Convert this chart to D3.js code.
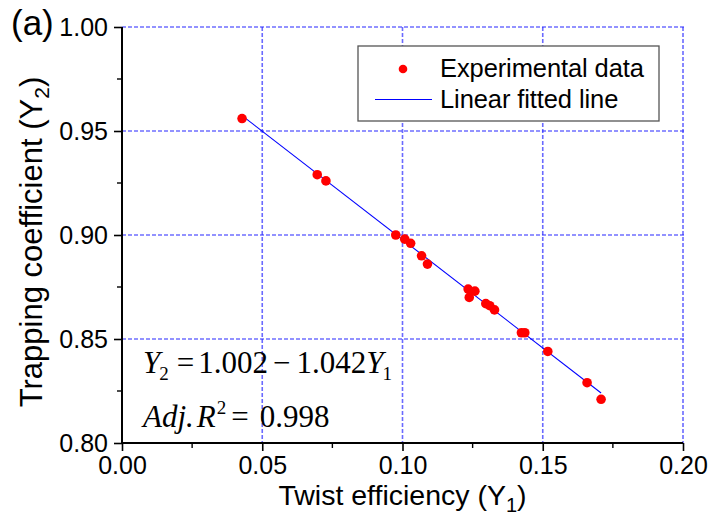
<!DOCTYPE html>
<html>
<head>
<meta charset="utf-8">
<script src="https://cdn.jsdelivr.net/npm/d3@7"></script>
<style>
  html, body { margin: 0; padding: 0; background: #fff; }
  svg { display: block; }
  .sans { font-family: "Liberation Sans", Arial, sans-serif; }
  .serif { font-family: "Liberation Serif", "Times New Roman", serif; }
</style>
</head>
<body>
<svg id="chart" width="712" height="521"></svg>
<script>
// Twist efficiency (Y1) vs trapping coefficient (Y2), measured samples
const twistEff = [0.0428, 0.0696, 0.0727, 0.0976, 0.1008, 0.1029, 0.1068, 0.1089,
                  0.1234, 0.1258, 0.1238, 0.1297, 0.1311, 0.1328, 0.1424, 0.1436,
                  0.1518, 0.1658, 0.1708];
const trapCoef = [0.956, 0.929, 0.926, 0.900, 0.898, 0.896, 0.890, 0.886,
                  0.874, 0.873, 0.870, 0.867, 0.866, 0.864, 0.853, 0.853,
                  0.844, 0.829, 0.821];

// Linear fit Y2 = a + b*Y1
const fitIntercept = 1.002;
const fitSlope = -1.042;
const fitAdjR2 = 0.998;
const fitRange = [0.0428, 0.1708];

const xTicks = [0.00, 0.05, 0.10, 0.15, 0.20];
const xMinor = [0.025, 0.075, 0.125, 0.175];
const yTicks = [0.80, 0.85, 0.90, 0.95, 1.00];
const yMinor = [0.825, 0.875, 0.925, 0.975];

const legendLabels = ["Experimental data", "Linear fitted line"];

const svg = d3.select("#chart");
const plot = { left: 122, right: 683, top: 27, bottom: 443 };

const x = d3.scaleLinear().domain([0, 0.20]).range([plot.left, plot.right]);
const y = d3.scaleLinear().domain([0.80, 1.00]).range([plot.bottom, plot.top]);

// dashed grid: vertical lines a bit softer, horizontal ones a stronger blue
svg.append("g").selectAll("line")
  .data(xTicks.filter(d => d > 0))
  .join("line")
  .attr("x1", d => x(d)).attr("x2", d => x(d))
  .attr("y1", plot.top).attr("y2", plot.bottom)
  .attr("stroke", "#6a6aff").attr("stroke-width", 1.6)
  .attr("stroke-dasharray", "4,2");

svg.append("g").selectAll("line")
  .data(yTicks.filter(d => d > 0.80))
  .join("line")
  .attr("x1", plot.left).attr("x2", plot.right + 3)
  .attr("y1", d => y(d)).attr("y2", d => y(d))
  .attr("stroke", "#2626ff").attr("stroke-width", 1.2)
  .attr("stroke-dasharray", "4,2");

// fitted line
svg.append("line")
  .attr("x1", x(fitRange[0])).attr("y1", y(fitIntercept + fitSlope * fitRange[0]))
  .attr("x2", x(fitRange[1])).attr("y2", y(fitIntercept + fitSlope * fitRange[1]))
  .attr("stroke", "#0000ff").attr("stroke-width", 1.1);

// data points
svg.append("g").selectAll("circle")
  .data(twistEff.map((v, i) => [v, trapCoef[i]]))
  .join("circle")
  .attr("cx", d => x(d[0])).attr("cy", d => y(d[1]))
  .attr("r", 4.8).attr("fill", "#ff0000");

// axes
const xAxis = d3.axisBottom(x).tickValues(xTicks).tickFormat(d3.format(".2f"))
  .tickSize(8).tickPadding(5);
const yAxis = d3.axisLeft(y).tickValues(yTicks).tickFormat(d3.format(".2f"))
  .tickSize(8).tickPadding(6);

const gx = svg.append("g").attr("transform", `translate(0,${plot.bottom})`).call(xAxis);
const gy = svg.append("g").attr("transform", `translate(${plot.left},0)`).call(yAxis);

[gx, gy].forEach(g => {
  g.select(".domain").attr("stroke", "#000").attr("stroke-width", 2);
  g.selectAll(".tick line").attr("stroke", "#000").attr("stroke-width", 1.6);
  g.selectAll(".tick text").attr("class", "sans").attr("font-size", 25).attr("fill", "#000");
});
gx.select(".domain").attr("d", `M${plot.left},0H${plot.right}`);
gy.select(".domain").attr("d", `M0,${plot.bottom}V${plot.top}`);

// minor ticks
svg.append("g").selectAll("line")
  .data(xMinor).join("line")
  .attr("x1", d => x(d)).attr("x2", d => x(d))
  .attr("y1", plot.bottom).attr("y2", plot.bottom + 5)
  .attr("stroke", "#000").attr("stroke-width", 1.4);
svg.append("g").selectAll("line")
  .data(yMinor).join("line")
  .attr("y1", d => y(d)).attr("y2", d => y(d))
  .attr("x1", plot.left).attr("x2", plot.left - 5)
  .attr("stroke", "#000").attr("stroke-width", 1.4);

// axis titles
const xt = svg.append("text").attr("class", "sans")
  .attr("x", (plot.left + plot.right) / 2).attr("y", 505)
  .attr("text-anchor", "middle").attr("font-size", 28.5);
xt.append("tspan").text("Twist efficiency (Y");
xt.append("tspan").attr("font-size", 20).attr("dy", 7).text("1");
xt.append("tspan").attr("dy", -7).text(")");

const yt = svg.append("text").attr("class", "sans")
  .attr("transform", `translate(42,${(plot.top + plot.bottom) / 2 + 7}) rotate(-90)`)
  .attr("text-anchor", "middle").attr("font-size", 31);
yt.append("tspan").text("Trapping coefficient (Y");
yt.append("tspan").attr("font-size", 21).attr("dy", 7).text("2");
yt.append("tspan").attr("dy", -7).text(")");

// panel label
svg.append("text").attr("class", "sans")
  .attr("x", 11).attr("y", 35).attr("font-size", 35).text("(a)");

// legend
const lg = svg.append("g");
lg.append("rect")
  .attr("x", 358).attr("y", 46).attr("width", 301).attr("height", 75)
  .attr("fill", "#fff").attr("stroke", "#555").attr("stroke-width", 1.3);
lg.append("circle").attr("cx", 403).attr("cy", 69).attr("r", 4.3).attr("fill", "#ff0000");
lg.append("line").attr("x1", 375).attr("x2", 432).attr("y1", 99.5).attr("y2", 99.5)
  .attr("stroke", "#0000ff").attr("stroke-width", 1.1);
lg.selectAll("text").data(legendLabels).join("text")
  .attr("class", "sans").attr("x", 440).attr("y", (d, i) => 77 + i * 31)
  .attr("font-size", 25.5).attr("letter-spacing", -0.1).text(d => d);

// fit equation
const eq1 = svg.append("text").attr("class", "serif").attr("x", 143).attr("y", 373).attr("font-size", 31);
eq1.append("tspan").attr("font-style", "italic").text("Y");
eq1.append("tspan").attr("font-size", 19).attr("dy", 7).attr("dx", -1).text("2");
eq1.append("tspan").attr("dy", -7).attr("dx", 8).text("=");
eq1.append("tspan").attr("dx", 4).text(fitIntercept.toFixed(3));
eq1.append("tspan").attr("dx", 5).text("\u2212");
eq1.append("tspan").attr("dx", 6).text(Math.abs(fitSlope).toFixed(3));
eq1.append("tspan").attr("font-style", "italic").text("Y");
eq1.append("tspan").attr("font-size", 19).attr("dy", 7).attr("dx", -1).text("1");

const eq2 = svg.append("text").attr("class", "serif").attr("x", 143).attr("y", 427).attr("font-size", 31);
eq2.append("tspan").attr("font-style", "italic").text("Adj.");
eq2.append("tspan").attr("font-style", "italic").attr("dx", 3).text("R");
eq2.append("tspan").attr("font-size", 19).attr("dy", -13).attr("dx", 1).text("2");
eq2.append("tspan").attr("dy", 13).attr("dx", 5).text("=");
eq2.append("tspan").attr("dx", 11).text(fitAdjR2.toFixed(3));
</script>
</body>
</html>
